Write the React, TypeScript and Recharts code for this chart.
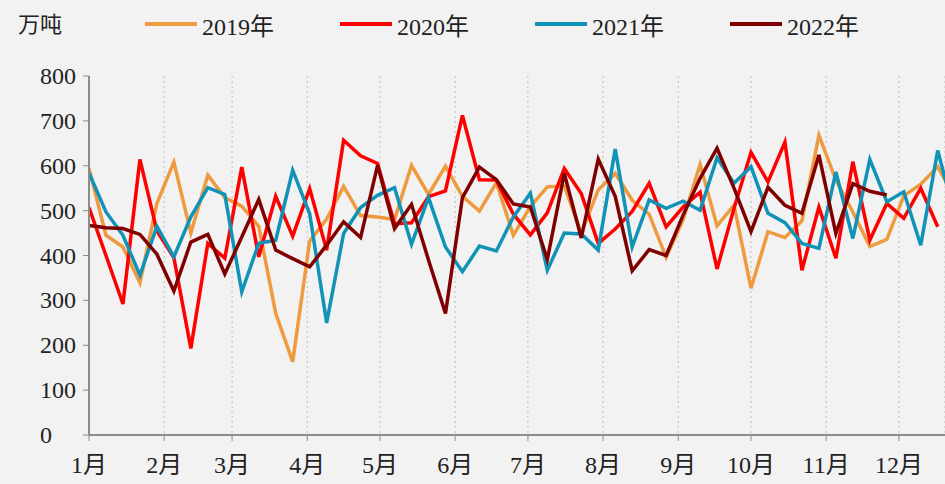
import { LineChart, Line, XAxis, YAxis, CartesianGrid } from "recharts";

// day of year for each weekly reading
const weekDays = [
  0, 7, 14, 21, 28, 35, 42, 49, 56, 63, 70, 77, 84, 91, 98, 105, 112, 119, 126,
  133, 140, 147, 154, 161, 168, 175, 182, 189, 196, 203, 210, 217, 224, 231, 238,
  245, 252, 259, 266, 273, 280, 287, 294, 301, 308, 315, 322, 329, 336, 343, 350, 357,
];

const monthStarts = [0, 31, 59, 90, 120, 151, 181, 212, 243, 273, 304, 334];
const monthLabels = ["1月", "2月", "3月", "4月", "5月", "6月", "7月", "8月", "9月", "10月", "11月", "12月"];
const yTicks = [0, 100, 200, 300, 400, 500, 600, 700, 800];

const s2019 = [
  594, 445, 419, 339, 516, 608, 450, 579, 529, 510, 465, 271, 163, 432, 481, 554, 489, 486,
  480, 601, 536, 599, 532, 499, 562, 445, 509, 553, 555, 450, 546, 583, 523, 492, 396, 480,
  603, 466, 512, 327, 453, 440, 477, 668, 568, 497, 420, 436, 533, 559, 598, 530,
];
const s2020 = [
  507, 400, 292, 614, 455, 395, 193, 427, 394, 597, 397, 532, 443, 549, 412, 657, 622, 605,
  471, 473, 531, 544, 712, 569, 568, 492, 446, 495, 594, 538, 427, 459, 498, 561, 464, 508,
  541, 370, 505, 630, 564, 653, 367, 508, 394, 609, 434, 516, 483, 550, 464,
];
const s2021 = [
  584, 497, 445, 356, 465, 397, 486, 551, 536, 319, 427, 434, 590, 493, 250, 449, 507, 534,
  551, 425, 529, 419, 364, 421, 410, 486, 539, 367, 450, 448, 412, 637, 419, 524, 505, 521,
  501, 618, 561, 598, 494, 473, 427, 416, 586, 438, 614, 520, 542, 423, 634, 490,
];
const s2022 = [
  467, 462, 460, 447, 403, 321, 430, 447, 359, 441, 525, 412, 393, 375, 423, 475, 440, 601,
  460, 514, 390, 271, 529, 597, 569, 515, 508, 391, 583, 439, 615, 532, 366, 413, 400, 490,
  572, 639, 550, 453, 552, 512, 494, 624, 449, 560, 543, 535,
];

const series = [
  { key: "y2019", name: "2019年", color: "#EE9A3F", values: s2019 },
  { key: "y2020", name: "2020年", color: "#FF0000", values: s2020 },
  { key: "y2021", name: "2021年", color: "#1193B7", values: s2021 },
  { key: "y2022", name: "2022年", color: "#800000", values: s2022 },
];

const data = weekDays.map((day, i) => {
  const row: Record<string, number | null> = { day };
  series.forEach((s) => {
    row[s.key] = i < s.values.length ? s.values[i] : null;
  });
  return row;
});

const FONT = "Liberation Serif, Times New Roman, Noto Sans CJK SC, serif";

const YTick = ({ y, payload }: any) => (
  <text x={40} y={y} dominantBaseline="central" fontSize={24} fill="#222" style={{ fontFamily: FONT }}>
    {payload.value}
  </text>
);

const XTick = ({ x, y, payload, index }: any) => (
  <text
    x={x}
    y={y + 22}
    textAnchor="middle"
    dominantBaseline="central"
    fontSize={24}
    fill="#222"
    style={{ fontFamily: FONT }}
  >
    {monthLabels[index] ?? payload.value}
  </text>
);

export default function App() {
  return (
    <div
      style={{
        position: "absolute",
        left: 0,
        top: 0,
        width: 945,
        height: 484,
        background: "#f2f2f2",
        fontFamily: FONT,
        overflow: "hidden",
      }}
    >
      <div style={{ position: "absolute", left: 18, top: 6, fontSize: 22, color: "#222" }}>万吨</div>
      {series.map((s, i) => (
        <div
          key={s.key}
          style={{
            position: "absolute",
            left: 145 + i * 195,
            top: 10,
            height: 28,
            display: "flex",
            alignItems: "center",
            fontSize: 24,
            color: "#222",
          }}
        >
          <span style={{ display: "inline-block", width: 52, height: 4, background: s.color, marginRight: 5 }} />
          {s.name}
        </div>
      ))}
      <LineChart
        width={945}
        height={484}
        data={data}
        margin={{ top: 76, right: 0, bottom: 0, left: 0 }}
      >
        <CartesianGrid horizontal={false} stroke="#bdbdbd" strokeDasharray="2 3" />
        <XAxis
          dataKey="day"
          type="number"
          domain={[0, 353]}
          allowDataOverflow
          ticks={monthStarts}
          interval={0}
          height={49}
          tickSize={6}
          tick={<XTick />}
          axisLine={{ stroke: "#8c8c8c", strokeWidth: 2 }}
          tickLine={{ stroke: "#8c8c8c" }}
        />
        <YAxis
          domain={[0, 800]}
          ticks={yTicks}
          interval={0}
          width={89}
          tickSize={6}
          tick={<YTick />}
          axisLine={{ stroke: "#8c8c8c", strokeWidth: 2 }}
          tickLine={{ stroke: "#8c8c8c" }}
        />
        {series.map((s) => (
          <Line
            key={s.key}
            dataKey={s.key}
            name={s.name}
            stroke={s.color}
            strokeWidth={3.5}
            dot={false}
            activeDot={false}
            isAnimationActive={false}
          />
        ))}
      </LineChart>
    </div>
  );
}
